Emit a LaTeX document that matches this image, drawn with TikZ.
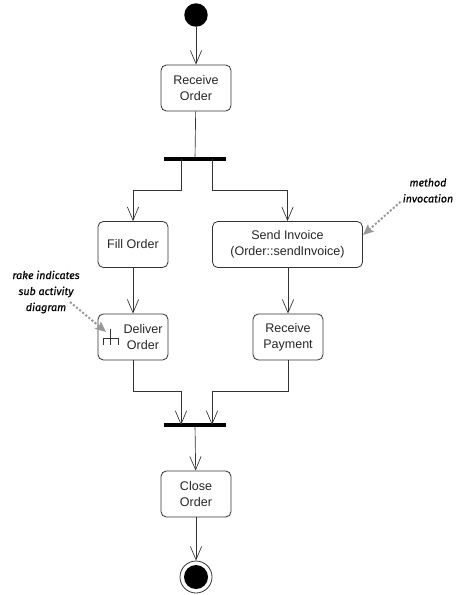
\documentclass[tikz,border=0pt]{standalone}
\usepackage{fontspec}
\setmainfont{Liberation Sans}
\newfontfamily\notefont[FakeBold=0.6]{Fira Sans}
\usepackage{tikz}
\usetikzlibrary{arrows.meta}

\tikzset{
	activity/.style={draw=black!80, rounded corners=4pt, line width=0.6pt, minimum width=52.5pt, minimum height=34.5pt, inner sep=0pt, align=center, font=\fontsize{9.4}{12}\selectfont, text=black!85},
	bar/.style={fill=black, minimum width=47pt, minimum height=2.4pt, inner sep=0pt},
	flow/.style={draw=black!80, line width=0.5pt, -{Straight Barb[length=10pt,width=8.5pt,line width=0.5pt]}},
	note/.style={align=center, inner sep=0pt, font=\notefont\itshape\fontsize{8}{12}\selectfont},
	pointer/.style={draw=black!40, line width=1.5pt, dash pattern=on 1.6pt off 1.4pt, -{Stealth[length=8pt,width=7pt,black!40,inset=1.5pt]}}
}

\begin{document}
\begin{tikzpicture}[x=0.75pt, y=-0.75pt]
		\useasboundingbox (0,0) rectangle (457,595);
		
		% Start and end
		\node[circle, fill=black, minimum size=17.6pt, inner sep=0pt] (start) at (196,15) {};
		\node[circle, draw=black!80, line width=0.6pt, minimum size=24pt, inner sep=0pt] (final) at (196,577) {};
		\node[circle, fill=black, minimum size=18pt, inner sep=0pt] (finaldot) at (196,577) {};
		
		% Activities
		\node[activity] (receive) at (196,88) {Receive\\Order};
		\node[activity] (fill) at (133,244.5) {Fill Order};
		\node[activity, minimum width=112.5pt] (send) at (287.5,244.5) {Send Invoice\\(Order::sendInvoice)};
		\node[activity] (deliver) at (133,337) {};
		\node[activity] (payment) at (288,337) {Receive\\Payment};
		\node[activity] (close) at (196,494) {Close\\Order};
		\node[font=\fontsize{9.4}{12}\selectfont, align=center, text=black!85, inner sep=0pt] (delivertext) at (143,337.5) {Deliver\\Order};
		
		% Bars
		\node[bar] (fork) at (195,159) {};
		\node[bar] (join) at (195,425) {};
		\coordinate (forkleft) at (181,159);
		\coordinate (forkright) at (212,159);
		\coordinate (joinleft) at (181,425);
		\coordinate (joinright) at (212,425);
		
		% Flows
		\draw[flow] (start) -- (receive);
		\draw[flow, -] (receive) -- (fork);
		\draw[flow] (forkleft) -- (181,190) -| (fill.north);
		\draw[flow] (forkright) -- (212,190) -| (send.north);
		\draw[flow] (fill) -- (deliver);
		\draw[flow] (send.south -| payment) -- (payment);
		\draw[flow] (deliver.south) -- (133,391) -| (joinleft);
		\draw[flow] (payment.south) -- (288,391) -| (joinright);
		\draw[flow] (join) -- (close);
		\draw[flow] (close) -- (final);
		
		% Rake
		\draw[black!80, line width=0.45pt] (110,329) -- (110,345) (103,345) -- (103,338) -- (118,338) -- (118,345);
		
		% Notes
		\node[note] (rakenote) at (46,292) {rake indicates\\sub activity\\diagram};
		\node[note] (methodnote) at (428,190.5) {method\\invocation};
		\coordinate (raketip) at (106,332);
		\coordinate (sendtip) at (363,235);
		\draw[pointer] (70,302) -- (raketip);
		\draw[pointer] (methodnote.south west) ++(-2,-1) -- (sendtip);
		
	\end{tikzpicture}
\end{document}
